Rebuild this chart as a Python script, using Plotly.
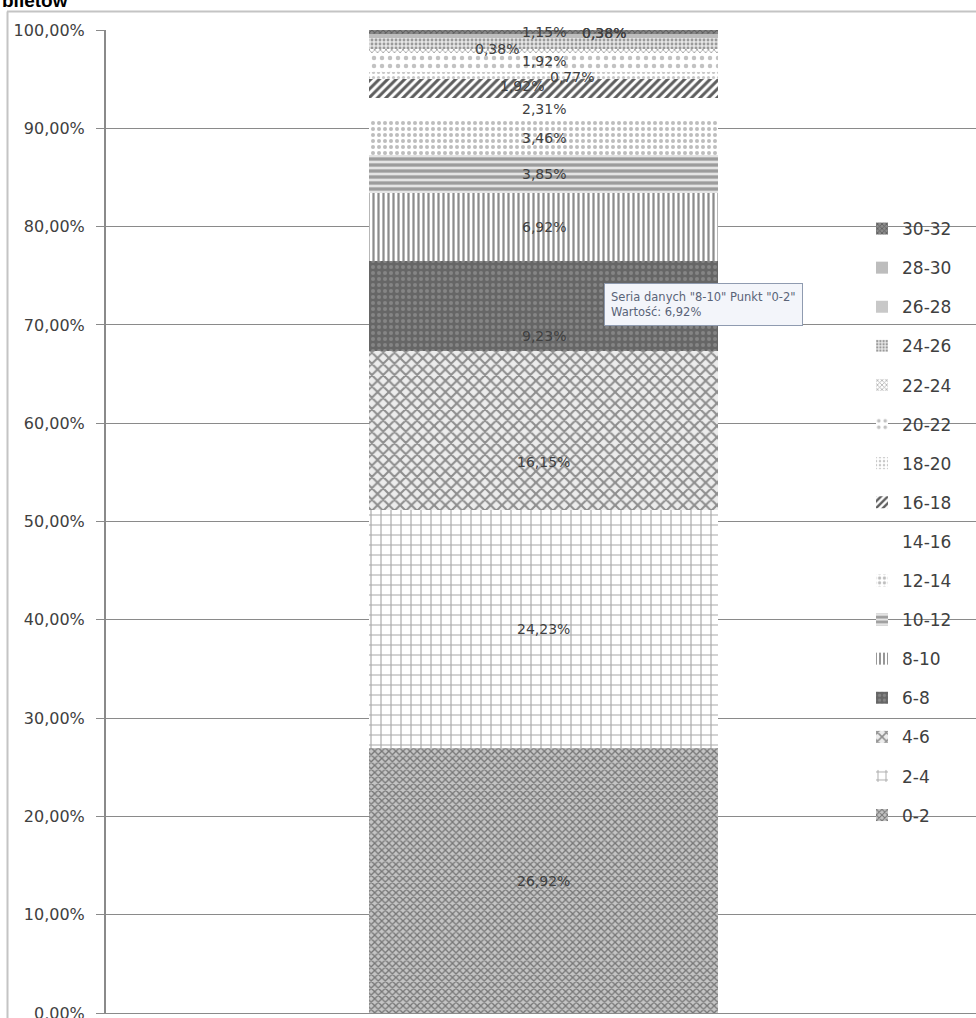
import plotly.graph_objects as go

# Share of sold tickets per range (percent), stacked in one column
category = ["0-2"]
series = ["0-2", "2-4", "4-6", "6-8", "8-10", "10-12", "12-14", "14-16",
          "16-18", "18-20", "20-22", "22-24", "24-26", "26-28", "28-30", "30-32"]
shares = [26.92, 24.23, 16.15, 9.23, 6.92, 3.85, 3.46, 2.31,
          1.92, 0.77, 1.92, 0.38, 1.15, 0.00, 0.38, 0.38]
y_ticks = [0, 0.1, 0.2, 0.3, 0.4, 0.5, 0.6, 0.7, 0.8, 0.9, 1.0]

# Fill patterns for each series: (shape, fg, bg, size, solidity)
fills = {
    "0-2":   ("x", "#767676", "#c4c4c4", 5, 0.45),
    "2-4":   ("+", "#a8a8a8", "#ffffff", 10, 0.22),
    "4-6":   ("x", "#8e8e8e", "#ececec", 8, 0.45),
    "6-8":   (".", "#858585", "#666666", 6, 0.35),
    "8-10":  ("|", "#8c8c8c", "#ffffff", 5, 0.45),
    "10-12": ("-", "#9c9c9c", "#e4e4e4", 6, 0.55),
    "12-14": (".", "#bdbdbd", "#ffffff", 6, 0.35),
    "14-16": ("", "#ffffff", "#ffffff", 8, 0.3),
    "16-18": ("/", "#5e5e5e", "#ffffff", 6, 0.5),
    "18-20": (".", "#c8c8c8", "#ffffff", 5, 0.3),
    "20-22": (".", "#c2c2c2", "#ffffff", 8, 0.25),
    "22-24": ("x", "#a8a8a8", "#ffffff", 4, 0.4),
    "24-26": (".", "#9a9a9a", "#e6e6e6", 4, 0.4),
    "26-28": ("", "#c8c8c8", "#c8c8c8", 8, 0.3),
    "28-30": ("", "#bdbdbd", "#bdbdbd", 8, 0.3),
    "30-32": ("x", "#5e5e5e", "#8a8a8a", 4, 0.45),
}

# Pixel nudges for the value labels (dx, dy; dy positive = up)
label_nudge = {
    "6-8": (0, -30), "4-6": (0, -31),
    "16-18": (-22, 3), "18-20": (28, -2), "20-22": (0, 1), "22-24": (-47, 2),
    "24-26": (0, 11), "28-30": (60, 3), "30-32": (60, -1),
}

W, H = 976, 1018
ML, MR, MT, MB = 106, 0, 30, 5
PW, PH = W - ML - MR, H - MT - MB

TEXT = "#404040"
FONT = "DejaVu Sans"


def pct(v):
    return f"{v:.2f}".replace(".", ",") + "%"


def px_x(p):
    return (p - ML) / PW


def px_y(p):
    return (H - MB - p) / PH


fig = go.Figure()
n = len(series)
for i, (name, val) in enumerate(zip(series, shares)):
    shape, fg, bg, size, sol = fills[name]
    fig.add_trace(go.Bar(
        x=category, y=[val / 100], name=name, legendgroup=name,
        legendrank=n - i,
        width=1.0,
        marker=dict(color=bg, line=dict(width=0),
                    pattern=dict(shape=shape, fgcolor=fg, bgcolor=bg,
                                 size=size, solidity=sol, fillmode="replace")),
        hoverinfo="skip",
    ))

# Value labels at the centre of each segment
cum = 0.0
for name, val in zip(series, shares):
    mid = (cum + val / 2) / 100
    cum += val
    if val <= 0:
        continue
    dx, dy = label_nudge.get(name, (0, 0))
    fig.add_annotation(x=0, y=mid, xref="x", yref="y", text=pct(val),
                       showarrow=False, xshift=dx, yshift=dy,
                       font=dict(family=FONT, size=14, color=TEXT))

# Hover box shown over the 8-10 segment
k = series.index("8-10")
fig.add_annotation(
    x=px_x(604), y=px_y(283), xref="paper", yref="paper",
    xanchor="left", yanchor="top", align="left", showarrow=False,
    text=f'Seria danych "{series[k]}" Punkt "{category[0]}"<br>Wartość: {pct(shares[k])}',
    font=dict(family=FONT, size=11.5, color="#5a6478"),
    bgcolor="#f3f5fa", bordercolor="#8f9bb0", borderwidth=1, borderpad=6,
)

# Tail of the chart title
fig.add_annotation(
    x=px_x(0), y=px_y(13), xref="paper", yref="paper",
    xanchor="left", yanchor="bottom", showarrow=False, text="<b>biletów</b>",
    font=dict(family="Liberation Sans", size=19, color="#000000"),
)

# Chart-area frame
fig.add_shape(type="line", xref="paper", yref="paper",
              x0=px_x(7), x1=px_x(W + 5), y0=px_y(11.5), y1=px_y(11.5),
              line=dict(color="#c4c4c4", width=2))
fig.add_shape(type="line", xref="paper", yref="paper",
              x0=px_x(7.5), x1=px_x(7.5), y0=px_y(11.5), y1=px_y(H + 5),
              line=dict(color="#c4c4c4", width=2))

fig.update_layout(
    width=W, height=H,
    margin=dict(l=ML, r=MR, t=MT, b=MB, pad=0, autoexpand=False),
    paper_bgcolor="#ffffff", plot_bgcolor="#ffffff",
    barmode="stack", bargap=0,
    separators=", ",
    showlegend=True,
    legend=dict(
        x=px_x(862), y=px_y(211), xanchor="left", yanchor="top",
        traceorder="grouped", tracegroupgap=14,
        bgcolor="rgba(0,0,0,0)", borderwidth=0, itemwidth=30,
        font=dict(family=FONT, size=17, color=TEXT),
    ),
    xaxis=dict(type="category", range=[-1.254, 1.239], showticklabels=False,
               showgrid=False, showline=True, linecolor="#8a8a8a", linewidth=1,
               ticks="", zeroline=False, automargin=False),
    yaxis=dict(range=[0, 1], tickvals=y_ticks, tickformat=".2%",
               showgrid=True, gridcolor="#8a8a8a", gridwidth=1,
               showline=True, linecolor="#8a8a8a", linewidth=2,
               ticks="outside", ticklen=8, tickcolor="#8a8a8a",
               ticklabelstandoff=8, ticklabeloverflow="allow", zeroline=False,
               automargin=False,
               tickfont=dict(family=FONT, size=16, color=TEXT)),
)

fig.write_html("out.html")
